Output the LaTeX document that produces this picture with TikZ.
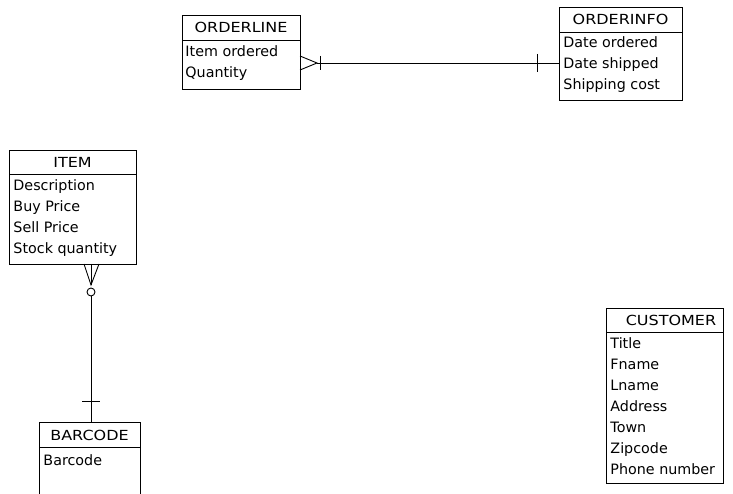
\documentclass[tikz,border=0pt]{standalone}
\usepackage{fontspec}
\setmainfont{DejaVu Sans}
\newfontfamily\hdrfont[FakeStretch=1.15]{DejaVu Sans}
\begin{document}
\begin{tikzpicture}[x=1pt,y=-1pt,line width=0.9pt,
  ent/.style n args={2}{draw, anchor=north west, inner sep=0pt, outer sep=0pt, minimum width=#1, minimum height=#2},
  hdrtext/.style={font=\hdrfont\fontsize{13.9}{14}\selectfont, inner sep=0pt, anchor=base},
  attrtext/.style={font=\fontsize{14.3}{14}\selectfont, inner sep=0pt, anchor=base west}]
\useasboundingbox (0,0) rectangle (733,494);

% ORDERLINE
\node[ent={118pt}{74pt}] (ol) at (182,15) {};
\draw (182,40) -- (300,40);
\node[hdrtext] (olh) at (241,32.5) {ORDERLINE};
\node[attrtext] (ol1) at (185,57) {Item ordered};
\node[attrtext] (ol2) at (185,78) {Quantity};

% ORDERINFO
\node[ent={123pt}{93pt}] (oi) at (559,7) {};
\draw (559,32) -- (682,32);
\node[hdrtext] (oih) at (620.5,24.5) {ORDERINFO};
\node[attrtext] (oi1) at (563,48) {Date ordered};
\node[attrtext] (oi2) at (563,69) {Date shipped};
\node[attrtext] (oi3) at (563,90) {Shipping cost};

% ITEM
\node[ent={127pt}{114pt}] (it) at (9,150) {};
\draw (9,174) -- (136,174);
\node[hdrtext] (ith) at (72.5,167.5) {ITEM};
\node[attrtext] (it1) at (13,191) {Description};
\node[attrtext] (it2) at (13,212) {Buy Price};
\node[attrtext] (it3) at (13,233) {Sell Price};
\node[attrtext] (it4) at (13,254) {Stock quantity};

% BARCODE
\node[ent={101pt}{80pt}] (bc) at (39,422) {};
\draw (39,447) -- (140,447);
\node[hdrtext] (bch) at (89.5,440) {BARCODE};
\node[attrtext] (bc1) at (43,465) {Barcode};

% CUSTOMER
\node[ent={117pt}{175pt}] (cu) at (606,308) {};
\draw (606,332) -- (723,332);
\node[hdrtext] (cuh) at (671,325.5) {CUSTOMER};
\node[attrtext] (cu1) at (610,348) {Title};
\node[attrtext] (cu2) at (610,369) {Fname};
\node[attrtext] (cu3) at (610,390) {Lname};
\node[attrtext] (cu4) at (610,411) {Address};
\node[attrtext] (cu5) at (610,432) {Town};
\node[attrtext] (cu6) at (610,453) {Zipcode};
\node[attrtext] (cu7) at (610,474) {Phone number};

% ORDERLINE -- ORDERINFO (many to one)
\coordinate (olc) at (317,63);
\coordinate (olp1) at (300,56);
\coordinate (olp2) at (300,70);
\draw (olp1) -- (olc) -- (olp2);
\draw (olc) -- (oi.west |- olc);
\coordinate (olb) at (320,63);
\draw (olb) ++(0,-7) -- ++(0,14);
\coordinate (oib) at (537,63);
\draw (oib) ++(0,-9) -- ++(0,18);

% ITEM -- BARCODE (zero-or-many to one)
\coordinate (itc) at (91,285);
\coordinate (itp1) at (84,264);
\coordinate (itp2) at (99,264);
\coordinate (itp0) at (91,264);
\draw (itp1) -- (itc) -- (itp2);
\draw (itp0) -- (itc);
\node[draw, circle, minimum size=8pt, inner sep=0pt] (itk) at (91,292) {};
\draw (itk.south) -- (bc.north -| itk);
\coordinate (bcb) at (91,401);
\draw (bcb) ++(-9,0) -- ++(18,0);
\end{tikzpicture}
\end{document}
